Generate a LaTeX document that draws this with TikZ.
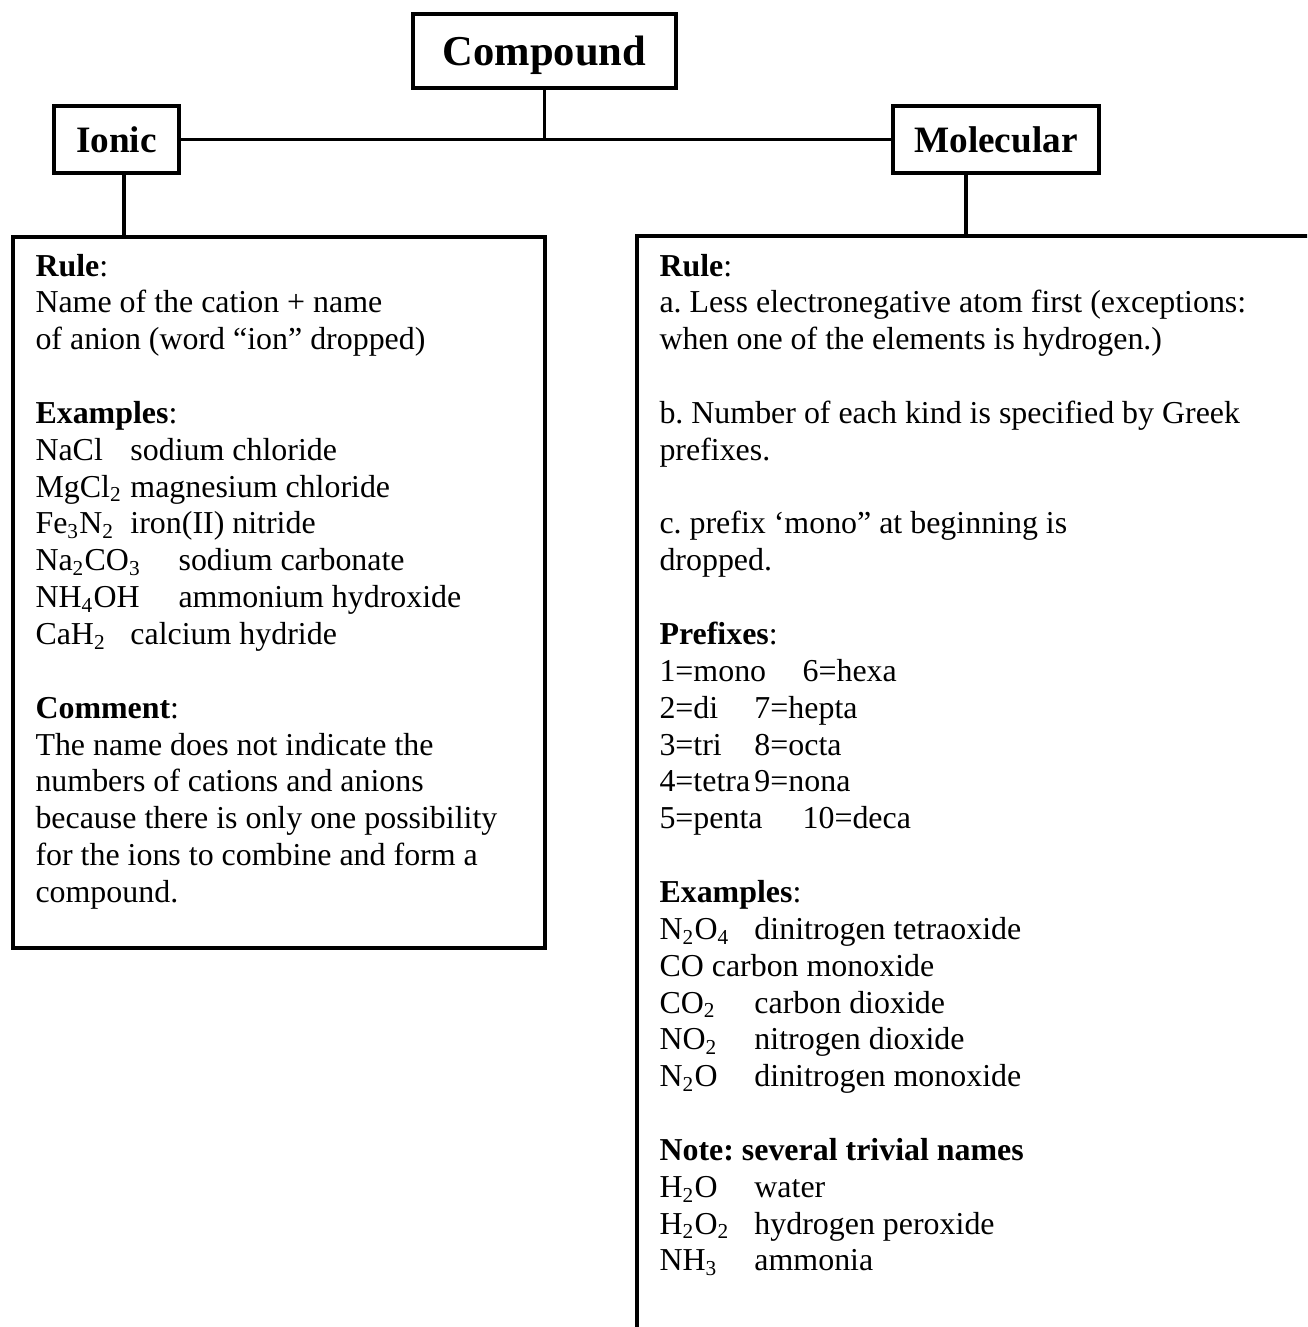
\documentclass[tikz,border=0pt]{standalone}
\usepackage{fontspec}
\setmainfont{Liberation Serif}
\usetikzlibrary{fit}
\frenchspacing
\newcommand\tabA[1]{\makebox[35.7pt][l]{#1}}
\newcommand\tabB[1]{\makebox[53.8pt][l]{#1}}
\tikzset{
  box/.style={draw, line width=1.3pt, inner sep=0pt},
  conn/.style={line width=1.2pt},
  txt/.style={anchor=base west, inner sep=0pt, font=\fontsize{12}{13.8}\selectfont},
}
\begin{document}
\begin{tikzpicture}[x=0.376pt,y=-0.376pt]
\useasboundingbox (0,0) rectangle (1307,1327);
\clip (0,0) rectangle (1307,1327);
\node[box, minimum width=98.9pt, minimum height=27.8pt, font=\bfseries\fontsize{16}{19}\selectfont, text depth=0pt] (compound) at (544.5,51) {Compound};
\node[box, minimum width=47pt, minimum height=25.2pt, font=\bfseries\fontsize{14}{17}\selectfont] (ionic) at (116.5,139.5) {Ionic};
\node[box, minimum width=77.5pt, minimum height=25.2pt, font=\bfseries\fontsize{14}{17}\selectfont] (molecular) at (996,139.5) {Molecular};
\node[box, fit={(13,237) (545,948)}] (lbox) {};
\node[box, fit={(637,236) (1340,1370)}] (rbox) {};
\coordinate (lx) at (124,0);
\coordinate (rx) at (966,0);
\draw[conn] (ionic) -- (molecular);
\draw[conn] (compound.south) -- (compound.south |- ionic.east);
\draw[conn] (ionic.south -| lx) -- (lbox.north -| lx);
\draw[conn] (molecular.south -| rx) -- (rbox.north -| rx);
\foreach \myi/\mytext in {
  0/{\textbf{Rule}:},
  1/{Name of the cation + name},
  2/{of anion (word “ion” dropped)},
  4/{\textbf{Examples}:},
  5/{\tabA{NaCl}sodium chloride},
  6/{\tabA{MgCl\textsubscript{2}}magnesium chloride},
  7/{\tabA{Fe\textsubscript{3}N\textsubscript{2}}iron(II) nitride},
  8/{\tabB{Na\textsubscript{2}CO\textsubscript{3}}sodium carbonate},
  9/{\tabB{NH\textsubscript{4}OH}ammonium hydroxide},
  10/{\tabA{CaH\textsubscript{2}}calcium hydride},
  12/{\textbf{Comment}:},
  13/{The name does not indicate the},
  14/{numbers of cations and anions},
  15/{because there is only one possibility},
  16/{for the ions to combine and form a},
  17/{compound.}}
  \node[txt] (l\myi) at (35,{276+36.85*\myi}) {\mytext};
\foreach \myi/\mytext in {
  0/{\textbf{Rule}:},
  1/{a. Less electronegative atom first (exceptions:},
  2/{when one of the elements is hydrogen.)},
  4/{b. Number of each kind is specified by Greek},
  5/{prefixes.},
  7/{c. prefix ‘mono” at beginning is},
  8/{dropped.},
  10/{\textbf{Prefixes}:},
  11/{\tabB{1=mono}6=hexa},
  12/{\tabA{2=di}7=hepta},
  13/{\tabA{3=tri}8=octa},
  14/{\tabA{4=tetra}9=nona},
  15/{\tabB{5=penta}10=deca},
  17/{\textbf{Examples}:},
  18/{\tabA{N\textsubscript{2}O\textsubscript{4}}dinitrogen tetraoxide},
  19/{CO carbon monoxide},
  20/{\tabA{CO\textsubscript{2}}carbon dioxide},
  21/{\tabA{NO\textsubscript{2}}nitrogen dioxide},
  22/{\tabA{N\textsubscript{2}O}dinitrogen monoxide},
  24/{\textbf{Note: several trivial names}},
  25/{\tabA{H\textsubscript{2}O}water},
  26/{\tabA{H\textsubscript{2}O\textsubscript{2}}hydrogen peroxide},
  27/{\tabA{NH\textsubscript{3}}ammonia}}
  \node[txt] (r\myi) at (659,{276+36.85*\myi}) {\mytext};
\end{tikzpicture}
\end{document}
